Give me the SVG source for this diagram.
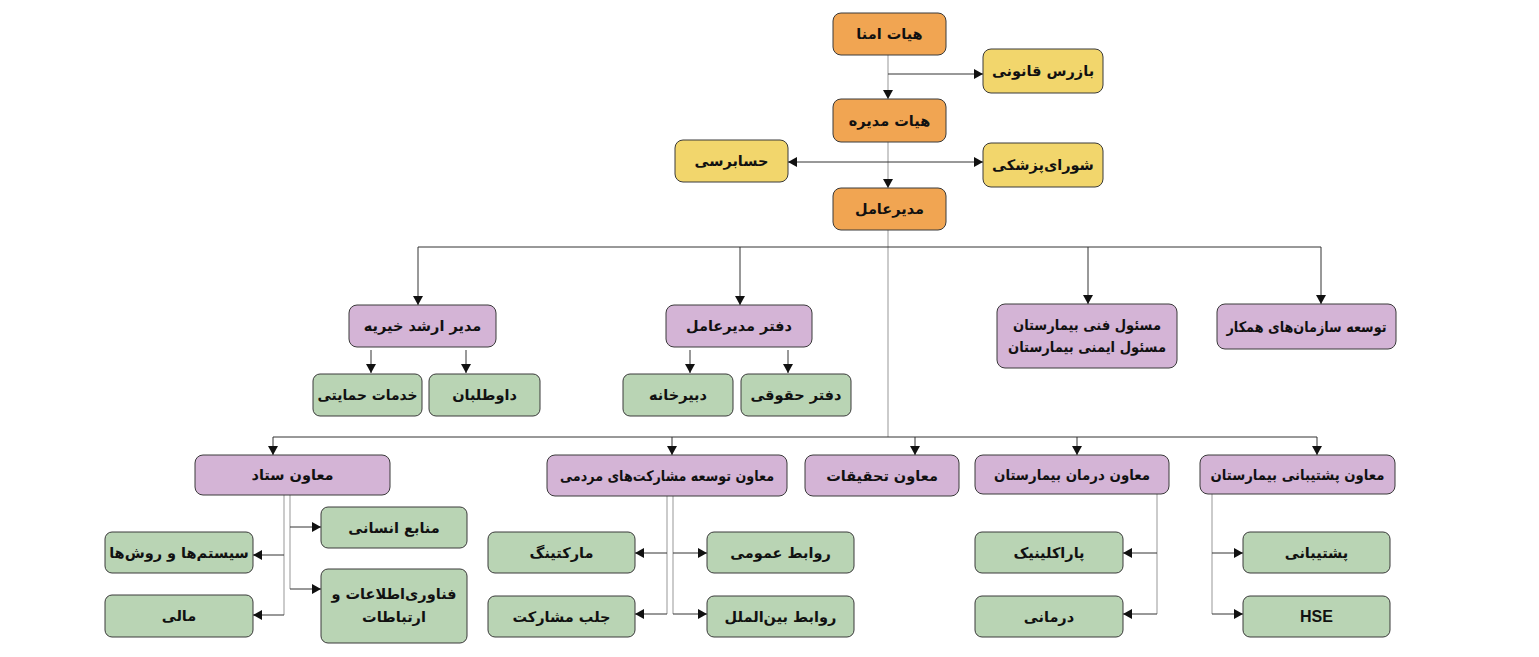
<svg xmlns="http://www.w3.org/2000/svg" width="1539" height="657" viewBox="0 0 1539 657">
<defs>
<marker id="ah" markerUnits="userSpaceOnUse" markerWidth="9" markerHeight="10" refX="9" refY="5" orient="auto-start-reverse" viewBox="0 0 9 10">
<path d="M0,0 L9,5 L0,10 z" fill="#111"/>
</marker>
<style>
.box{stroke:#3a3a3a;stroke-width:1}
.o{fill:#F1A552}
.y{fill:#F2D66C}
.p{fill:#D4B4D6}
.g{fill:#B9D4B4}
text{font-family:"DejaVu Sans","Noto Sans",sans-serif;font-weight:bold;font-size:14.5px;fill:#111;text-anchor:middle;dominant-baseline:central}
.dk{stroke:#333;stroke-width:1;fill:none}
.gr{stroke:#a8a8a8;stroke-width:1.2;fill:none}
.ar{marker-end:url(#ah)}
.ab{marker-start:url(#ah);marker-end:url(#ah)}
</style>
</defs>
<rect width="1539" height="657" fill="#ffffff"/>
<g id="connectors">
<line class="gr ar" x1="888" y1="55" x2="888" y2="99"/>
<line class="dk ar" x1="888" y1="74" x2="983" y2="74"/>
<line class="gr ar" x1="888" y1="142" x2="888" y2="188"/>
<line class="dk ab" x1="788" y1="162" x2="983" y2="162"/>
<line class="gr" x1="888" y1="230" x2="888" y2="437"/>
<line class="dk" x1="418" y1="247" x2="1321" y2="247"/>
<line class="dk ar" x1="418" y1="247" x2="418" y2="305"/>
<line class="dk ar" x1="740" y1="247" x2="740" y2="305"/>
<line class="dk ar" x1="1088" y1="247" x2="1088" y2="304"/>
<line class="dk ar" x1="1321" y1="247" x2="1321" y2="304"/>
<line class="dk ar" x1="371" y1="350" x2="371" y2="373"/>
<line class="dk ar" x1="466" y1="350" x2="466" y2="373"/>
<line class="dk ar" x1="690" y1="350" x2="690" y2="373"/>
<line class="dk ar" x1="788" y1="350" x2="788" y2="373"/>
<line class="dk" x1="273" y1="437" x2="1317" y2="437"/>
<line class="dk ar" x1="273" y1="437" x2="273" y2="455"/>
<line class="dk ar" x1="672" y1="437" x2="672" y2="455"/>
<line class="dk ar" x1="915" y1="437" x2="915" y2="455"/>
<line class="dk ar" x1="1077" y1="437" x2="1077" y2="455"/>
<line class="dk ar" x1="1317" y1="437" x2="1317" y2="455"/>
<line class="gr" x1="284" y1="495" x2="284" y2="615"/>
<line class="dk ar" x1="284" y1="555" x2="253" y2="555"/>
<line class="dk ar" x1="284" y1="615" x2="253" y2="615"/>
<line class="gr" x1="290" y1="495" x2="290" y2="589"/>
<line class="dk ar" x1="290" y1="527" x2="321" y2="527"/>
<line class="dk ar" x1="290" y1="589" x2="321" y2="589"/>
<line class="gr" x1="667" y1="496" x2="667" y2="614"/>
<line class="dk ar" x1="667" y1="553" x2="635" y2="553"/>
<line class="dk ar" x1="667" y1="614" x2="635" y2="614"/>
<line class="gr" x1="673" y1="496" x2="673" y2="614"/>
<line class="dk ar" x1="673" y1="553" x2="707" y2="553"/>
<line class="dk ar" x1="673" y1="614" x2="707" y2="614"/>
<line class="gr" x1="1157" y1="494" x2="1157" y2="614"/>
<line class="dk ar" x1="1157" y1="553" x2="1123" y2="553"/>
<line class="dk ar" x1="1157" y1="614" x2="1123" y2="614"/>
<line class="gr" x1="1212" y1="494" x2="1212" y2="614"/>
<line class="dk ar" x1="1212" y1="553" x2="1243" y2="553"/>
<line class="dk ar" x1="1212" y1="614" x2="1243" y2="614"/>
</g>
<g id="n-omana"><rect class="box o" x="833" y="13" width="113" height="42" rx="8"/><text x="889.5" y="34">هیات امنا</text></g>
<g id="n-bazras"><rect class="box y" x="983" y="49" width="120" height="44" rx="8"/><text x="1043" y="71">بازرس قانونی</text></g>
<g id="n-modire"><rect class="box o" x="833" y="99" width="113" height="43" rx="8"/><text x="889.5" y="120.5">هیات مدیره</text></g>
<g id="n-hesabresi"><rect class="box y" x="675" y="140" width="113" height="42" rx="8"/><text x="731.5" y="161">حسابرسی</text></g>
<g id="n-shoura"><rect class="box y" x="983" y="143" width="120" height="44" rx="8"/><text x="1043" y="165">شورای‌پزشکی</text></g>
<g id="n-modiramel"><rect class="box o" x="833" y="188" width="113" height="42" rx="8"/><text x="889.5" y="209">مدیرعامل</text></g>
<g id="n-kheyrie"><rect class="box p" x="349" y="305" width="147" height="42" rx="8"/><text x="422.5" y="326">مدیر ارشد خیریه</text></g>
<g id="n-daftar"><rect class="box p" x="666" y="305" width="146" height="42" rx="8"/><text x="739" y="326">دفتر مدیرعامل</text></g>
<g id="n-masoul"><rect class="box p" x="997" y="304" width="180" height="64" rx="8"/><text x="1087" y="325" textLength="148" lengthAdjust="spacingAndGlyphs">مسئول فنی بیمارستان</text><text x="1087" y="347" textLength="158" lengthAdjust="spacingAndGlyphs">مسئول ایمنی بیمارستان</text></g>
<g id="n-tosee"><rect class="box p" x="1217" y="304" width="179" height="45" rx="8"/><text x="1306.5" y="326.5" textLength="160" lengthAdjust="spacingAndGlyphs">توسعه سازمان‌های همکار</text></g>
<g id="n-himayati"><rect class="box g" x="313" y="374" width="109" height="42" rx="7"/><text x="367.5" y="395" textLength="100" lengthAdjust="spacingAndGlyphs">خدمات حمایتی</text></g>
<g id="n-davtalab"><rect class="box g" x="429" y="374" width="111" height="42" rx="7"/><text x="484.5" y="395">داوطلبان</text></g>
<g id="n-dabir"><rect class="box g" x="623" y="374" width="110" height="42" rx="7"/><text x="678" y="395">دبیرخانه</text></g>
<g id="n-hoghoghi"><rect class="box g" x="741" y="374" width="110" height="42" rx="7"/><text x="796" y="395">دفتر حقوقی</text></g>
<g id="n-setad"><rect class="box p" x="195" y="455" width="195" height="40" rx="8"/><text x="292.5" y="475">معاون ستاد</text></g>
<g id="n-mosharekat"><rect class="box p" x="547" y="455" width="240" height="41" rx="8"/><text x="667" y="475.5" textLength="214" lengthAdjust="spacingAndGlyphs">معاون توسعه مشارکت‌های مردمی</text></g>
<g id="n-tahghighat"><rect class="box p" x="805" y="455" width="154" height="41" rx="8"/><text x="882" y="475.5">معاون تحقیقات</text></g>
<g id="n-darman"><rect class="box p" x="975" y="455" width="194" height="39" rx="8"/><text x="1072" y="474.5" textLength="156" lengthAdjust="spacingAndGlyphs">معاون درمان بیمارستان</text></g>
<g id="n-poshtibani"><rect class="box p" x="1200" y="455" width="195" height="39" rx="8"/><text x="1297.5" y="474.5" textLength="174" lengthAdjust="spacingAndGlyphs">معاون پشتیبانی بیمارستان</text></g>
<g id="n-systemha"><rect class="box g" x="105" y="532" width="148" height="41" rx="7"/><text x="179" y="552.5">سیستم‌ها و روش‌ها</text></g>
<g id="n-mali"><rect class="box g" x="105" y="595" width="148" height="42" rx="7"/><text x="179" y="616">مالی</text></g>
<g id="n-manabe"><rect class="box g" x="321" y="507" width="146" height="41" rx="7"/><text x="394" y="527.5">منابع انسانی</text></g>
<g id="n-fanavari"><rect class="box g" x="321" y="569" width="146" height="74" rx="7"/><text x="394" y="594">فناوری‌اطلاعات و</text><text x="394" y="617">ارتباطات</text></g>
<g id="n-marketing"><rect class="box g" x="488" y="532" width="147" height="41" rx="7"/><text x="561.5" y="552.5">مارکتینگ</text></g>
<g id="n-jalb"><rect class="box g" x="488" y="596" width="147" height="41" rx="7"/><text x="561.5" y="616.5">جلب مشارکت</text></g>
<g id="n-omoomi"><rect class="box g" x="707" y="532" width="147" height="41" rx="7"/><text x="780.5" y="552.5">روابط عمومی</text></g>
<g id="n-beynolmelal"><rect class="box g" x="707" y="596" width="147" height="41" rx="7"/><text x="780.5" y="616.5">روابط بین‌الملل</text></g>
<g id="n-paraclinic"><rect class="box g" x="975" y="532" width="148" height="41" rx="7"/><text x="1049" y="552.5">پاراکلینیک</text></g>
<g id="n-darmani"><rect class="box g" x="975" y="596" width="148" height="41" rx="7"/><text x="1049" y="616.5">درمانی</text></g>
<g id="n-poshtibani2"><rect class="box g" x="1243" y="532" width="147" height="41" rx="7"/><text x="1316.5" y="552.5">پشتیبانی</text></g>
<g id="n-hse"><rect class="box g" x="1243" y="596" width="147" height="41" rx="7"/><text x="1316.5" y="616.5" style="font-family:'Liberation Sans','DejaVu Sans',sans-serif;font-size:16px">HSE</text></g>
</svg>
